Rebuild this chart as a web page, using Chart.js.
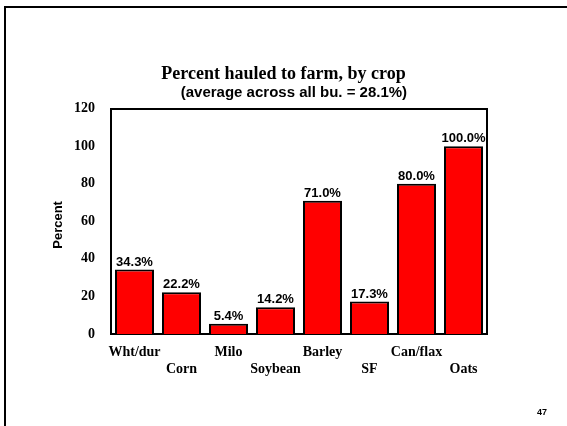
<!DOCTYPE html>
<html>
<head>
<meta charset="utf-8">
<script src="https://cdn.jsdelivr.net/npm/chart.js@4/dist/chart.umd.min.js"></script>
<style>
  html, body { margin: 0; padding: 0; background: #fff; }
  #wrap { position: relative; width: 567px; height: 426px; overflow: hidden; }
  #frame { position: absolute; left: 4px; top: 6px; width: 600px; height: 500px;
           border-left: 2px solid #000; border-top: 2px solid #000; pointer-events: none; }
  #pg { position: absolute; left: 537px; top: 407px; font: bold 9px "Liberation Sans", Arial, sans-serif; color: #000; }
  canvas { position: absolute; left: 0; top: 0; }
</style>
</head>
<body>
<div id="wrap">
  <canvas id="c" width="567" height="426"></canvas>
  <div id="frame"></div>
  <div id="pg">47</div>
</div>
<script>
const categories = ['Wht/dur', 'Corn', 'Milo', 'Soybean', 'Barley', 'SF', 'Can/flax', 'Oats'];
const percentValues = [34.3, 22.2, 5.4, 14.2, 71.0, 17.3, 80.0, 100.0];
const yTicks = [0, 20, 40, 60, 80, 100, 120];
const chartTitle = 'Percent hauled to farm, by crop';
const chartSubtitle = '     (average across all bu. = 28.1%)';
const yAxisTitle = 'Percent  ';

Chart.defaults.color = '#000';

const valueLabels = {
  id: 'valueLabels',
  afterDatasetsDraw(chart) {
    const ctx = chart.ctx;
    const meta = chart.getDatasetMeta(0);
    ctx.save();
    ctx.font = 'bold 13px "Liberation Sans", Arial, sans-serif';
    ctx.fillStyle = '#000';
    ctx.textAlign = 'center';
    ctx.textBaseline = 'bottom';
    meta.data.forEach((bar, i) => {
      ctx.fillText(percentValues[i].toFixed(1) + '%', bar.x, bar.y - 1);
    });
    ctx.restore();
  }
};

new Chart(document.getElementById('c'), {
  type: 'bar',
  data: {
    labels: categories,
    datasets: [{
      data: percentValues,
      backgroundColor: '#ff0000',
      borderColor: '#000',
      borderWidth: 2,
      barPercentage: 0.83,
      categoryPercentage: 1.0
    }]
  },
  options: {
    responsive: false,
    animation: false,
    devicePixelRatio: 1,
    layout: { padding: 0 },
    plugins: {
      legend: { display: false },
      tooltip: { enabled: false },
      title: {
        display: true,
        text: chartTitle,
        color: '#000',
        font: { family: '"Liberation Serif", "Times New Roman", serif', size: 18, weight: 'bold', lineHeight: 1.2 },
        padding: { top: 64, bottom: 0 }
      },
      subtitle: {
        display: true,
        text: chartSubtitle,
        color: '#000',
        font: { family: '"Liberation Sans", Arial, sans-serif', size: 15, weight: 'bold', lineHeight: 1.0 },
        padding: { top: 0, bottom: 8 }
      }
    },
    scales: {
      x: {
        position: 'bottom',
        grid: { display: false, drawTicks: false },
        border: { display: true, color: '#000', width: 2 },
        ticks: {
          padding: 10,
          color: '#000',
          maxRotation: 0,
          autoSkip: false,
          font: { family: '"Liberation Serif", "Times New Roman", serif', size: 14, weight: 'bold', lineHeight: 1.2 },
          callback: function(v, i) { const l = categories[i]; return i % 2 === 0 ? [l, ''] : ['', l]; }
        },
        afterFit(scale) { scale.height = 92; }
      },
      x2: {
        type: 'linear',
        position: 'top',
        display: true,
        grid: { display: false, drawTicks: false },
        border: { display: true, color: '#000', width: 2 },
        ticks: { display: false },
        afterFit(scale) { scale.height = 0; }
      },
      y: {
        position: 'left',
        min: 0,
        max: 120,
        afterBuildTicks(scale) { scale.ticks = yTicks.map(v => ({ value: v })); },
        grid: { display: false, drawTicks: false },
        border: { display: true, color: '#000', width: 2 },
        title: {
          display: true,
          text: yAxisTitle,
          color: '#000',
          font: { family: '"Liberation Sans", Arial, sans-serif', size: 13, weight: 'bold', lineHeight: 1.2 },
          padding: { top: 51, bottom: 0 }
        },
        ticks: {
          padding: 16,
          color: '#000',
          font: { family: '"Liberation Serif", "Times New Roman", serif', size: 14, weight: 'bold' }
        },
        afterFit(scale) { scale.width = 111; }
      },
      y2: {
        type: 'linear',
        position: 'right',
        display: true,
        grid: { display: false, drawTicks: false },
        border: { display: true, color: '#000', width: 2 },
        ticks: { display: false },
        afterFit(scale) { scale.width = 80; }
      }
    }
  },
  plugins: [valueLabels]
});
</script>
</body>
</html>
